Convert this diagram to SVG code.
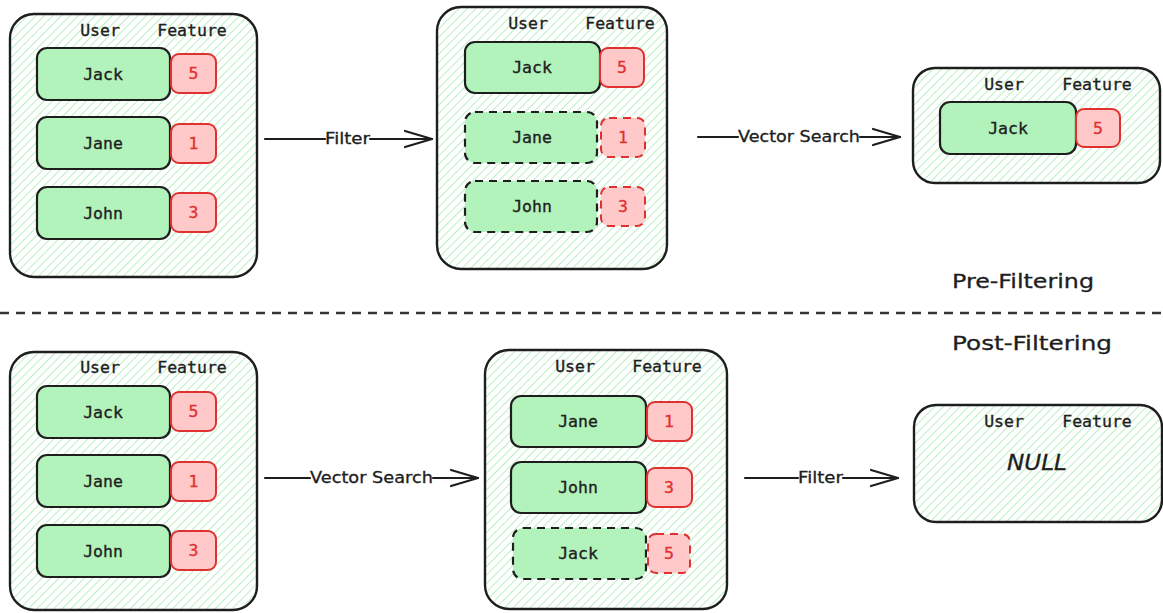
<svg xmlns="http://www.w3.org/2000/svg" width="1163" height="613" viewBox="0 0 1163 613">
  <defs>
    <!-- diagonal green hatching used as panel fill -->
    <pattern id="hatch" width="6" height="6" patternUnits="userSpaceOnUse" patternTransform="rotate(45)">
      <rect width="6" height="6" fill="#ffffff"/>
      <line x1="0" y1="0" x2="0" y2="6" stroke="#a9ecb3" stroke-width="1.6"/>
    </pattern>
    <marker id="head" markerUnits="userSpaceOnUse" markerWidth="32" markerHeight="22" refX="28" refY="11" orient="auto" viewBox="0 0 32 22">
      <path d="M1,3 L28,11 L1,19" fill="none" stroke="#1e1e1e" stroke-width="2.2" stroke-linecap="round" stroke-linejoin="round"/>
    </marker>
  </defs>
  <style>
    .panel { fill: url(#hatch); stroke: #1e1e1e; stroke-width: 2.4; }
    .user { fill: #b2f2bb; stroke: #1e1e1e; stroke-width: 2.2; }
    .feat { fill: #ffc9c9; stroke: #e03131; stroke-width: 2; }
    .dash { stroke-dasharray: 8 6; }
    .hdr { font-family: "DejaVu Sans Mono", "Liberation Mono", monospace; font-size: 16.5px; fill: #1e1e1e; stroke: #1e1e1e; stroke-width: 0.35; text-anchor: middle; }
    .name { font-family: "DejaVu Sans Mono", "Liberation Mono", monospace; font-size: 16.5px; fill: #1e1e1e; stroke: #1e1e1e; stroke-width: 0.35; text-anchor: middle; }
    .num { font-family: "DejaVu Sans Mono", "Liberation Mono", monospace; font-size: 16.5px; fill: #e03131; stroke: #e03131; stroke-width: 0.35; text-anchor: middle; }
    .hand { font-family: "DejaVu Sans", "Liberation Sans", sans-serif; fill: #1e1e1e; stroke: #1e1e1e; stroke-width: 0.3; }
    .conn { fill: none; stroke: #1e1e1e; stroke-width: 2.2; stroke-linecap: round; }
  </style>

  <!-- Pre-filtering: all rows -->
  <g id="pre-all">
    <rect class="panel" x="10" y="14" width="247" height="263" rx="24"/>
    <text class="hdr" x="100" y="36">User</text>
    <text class="hdr" x="192" y="36">Feature</text>
    <rect class="user" x="37" y="48" width="133" height="52" rx="10"/>
    <text class="name" x="103" y="80">Jack</text>
    <rect class="feat" x="171" y="54" width="45" height="39" rx="8"/>
    <text class="num" x="193.5" y="79">5</text>
    <rect class="user" x="37" y="117" width="133" height="52" rx="10"/>
    <text class="name" x="103" y="149">Jane</text>
    <rect class="feat" x="171" y="124" width="45" height="39" rx="8"/>
    <text class="num" x="193.5" y="149">1</text>
    <rect class="user" x="37" y="187" width="133" height="52" rx="10"/>
    <text class="name" x="103" y="219">John</text>
    <rect class="feat" x="171" y="193" width="45" height="39" rx="8"/>
    <text class="num" x="193.5" y="218">3</text>
  </g>

  <!-- Pre-filtering: after filter -->
  <g id="pre-filtered">
    <rect class="panel" x="437" y="7" width="230" height="262" rx="24"/>
    <text class="hdr" x="528" y="29">User</text>
    <text class="hdr" x="620" y="29">Feature</text>
    <rect class="user" x="465" y="42" width="135" height="51" rx="10"/>
    <text class="name" x="532" y="73">Jack</text>
    <rect class="feat" x="600" y="48" width="44" height="39" rx="8"/>
    <text class="num" x="622" y="73">5</text>
    <rect class="user dash" x="465" y="112" width="132" height="51" rx="10"/>
    <text class="name" x="532" y="143">Jane</text>
    <rect class="feat dash" x="601" y="118" width="44" height="39" rx="8"/>
    <text class="num" x="623" y="143">1</text>
    <rect class="user dash" x="465" y="181" width="132" height="51" rx="10"/>
    <text class="name" x="532" y="212">John</text>
    <rect class="feat dash" x="601" y="187" width="44" height="39" rx="8"/>
    <text class="num" x="623" y="212">3</text>
  </g>

  <!-- Pre-filtering: search result -->
  <g id="pre-result">
    <rect class="panel" x="913" y="68" width="247" height="115" rx="22"/>
    <text class="hdr" x="1004" y="90">User</text>
    <text class="hdr" x="1097" y="90">Feature</text>
    <rect class="user" x="940" y="102" width="136" height="52" rx="10"/>
    <text class="name" x="1008" y="134">Jack</text>
    <rect class="feat" x="1076" y="109" width="44" height="38" rx="8"/>
    <text class="num" x="1098" y="134">5</text>
  </g>

  <!-- Post-filtering: all rows -->
  <g id="post-all">
    <rect class="panel" x="10" y="352" width="247" height="258" rx="24"/>
    <text class="hdr" x="100" y="373">User</text>
    <text class="hdr" x="192" y="373">Feature</text>
    <rect class="user" x="37" y="386" width="133" height="52" rx="10"/>
    <text class="name" x="103" y="418">Jack</text>
    <rect class="feat" x="171" y="392" width="45" height="39" rx="8"/>
    <text class="num" x="193.5" y="417">5</text>
    <rect class="user" x="37" y="455" width="133" height="52" rx="10"/>
    <text class="name" x="103" y="487">Jane</text>
    <rect class="feat" x="171" y="462" width="45" height="39" rx="8"/>
    <text class="num" x="193.5" y="487">1</text>
    <rect class="user" x="37" y="525" width="133" height="52" rx="10"/>
    <text class="name" x="103" y="557">John</text>
    <rect class="feat" x="171" y="531" width="45" height="39" rx="8"/>
    <text class="num" x="193.5" y="556">3</text>
  </g>

  <!-- Post-filtering: after vector search -->
  <g id="post-searched">
    <rect class="panel" x="485" y="350" width="242" height="259" rx="24"/>
    <text class="hdr" x="575" y="372">User</text>
    <text class="hdr" x="667" y="372">Feature</text>
    <rect class="user" x="511" y="396" width="135" height="51" rx="10"/>
    <text class="name" x="578" y="427">Jane</text>
    <rect class="feat" x="647" y="402" width="45" height="39" rx="8"/>
    <text class="num" x="669" y="427">1</text>
    <rect class="user" x="511" y="462" width="135" height="51" rx="10"/>
    <text class="name" x="578" y="493">John</text>
    <rect class="feat" x="647" y="468" width="45" height="39" rx="8"/>
    <text class="num" x="669" y="493">3</text>
    <rect class="user dash" x="513" y="528" width="133" height="51" rx="10"/>
    <text class="name" x="578" y="559">Jack</text>
    <rect class="feat dash" x="648" y="534" width="42" height="39" rx="8"/>
    <text class="num" x="669" y="559">5</text>
  </g>

  <!-- Post-filtering: empty result -->
  <g id="post-result">
    <rect class="panel" x="914" y="405" width="248" height="117" rx="22"/>
    <text class="hdr" x="1004" y="427">User</text>
    <text class="hdr" x="1097" y="427">Feature</text>
    <text class="hand" x="1037" y="470" font-size="21" font-style="italic" text-anchor="middle" textLength="60" lengthAdjust="spacingAndGlyphs">NULL</text>
  </g>

  <!-- section divider and titles -->
  <g id="divider">
    <line x1="0" y1="313" x2="1163" y2="313" stroke="#343434" stroke-width="2.5" stroke-dasharray="9 7"/>
    <text class="hand" x="952" y="288" font-size="20" textLength="142" lengthAdjust="spacingAndGlyphs">Pre-Filtering</text>
    <text class="hand" x="952" y="350" font-size="20" textLength="160" lengthAdjust="spacingAndGlyphs">Post-Filtering</text>
  </g>

  <!-- connectors -->
  <g id="connectors">
    <line class="conn" x1="265" y1="139" x2="325" y2="139"/>
    <line class="conn" x1="370" y1="139" x2="432" y2="139" marker-end="url(#head)"/>
    <text class="hand" x="325" y="144" font-size="15" textLength="45" lengthAdjust="spacingAndGlyphs">Filter</text>

    <line class="conn" x1="698" y1="137" x2="738" y2="137"/>
    <line class="conn" x1="860" y1="137" x2="900" y2="137" marker-end="url(#head)"/>
    <text class="hand" x="738" y="142" font-size="15" textLength="122" lengthAdjust="spacingAndGlyphs">Vector Search</text>

    <line class="conn" x1="265" y1="478" x2="310" y2="478"/>
    <line class="conn" x1="433" y1="478" x2="478" y2="478" marker-end="url(#head)"/>
    <text class="hand" x="310" y="483" font-size="15" textLength="123" lengthAdjust="spacingAndGlyphs">Vector Search</text>

    <line class="conn" x1="745" y1="478" x2="798" y2="478"/>
    <line class="conn" x1="843" y1="478" x2="898" y2="478" marker-end="url(#head)"/>
    <text class="hand" x="798" y="483" font-size="15" textLength="45" lengthAdjust="spacingAndGlyphs">Filter</text>
  </g>
</svg>
